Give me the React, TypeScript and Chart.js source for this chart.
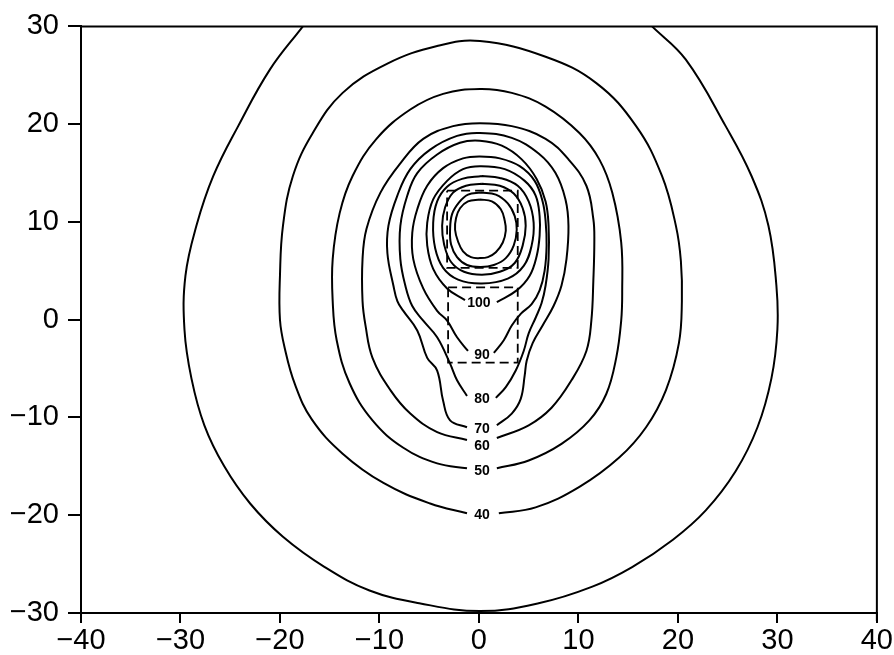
import React, { useEffect, useRef } from "react";
import { Chart, registerables } from "chart.js";

Chart.register(...registerables);

// Axis ticks
const xTicks = [-40, -30, -20, -10, 0, 10, 20, 30, 40];
const yTicks = [-30, -20, -10, 0, 10, 20, 30];

// Contour lines, [x, y] in data units
const c30: [number, number][] = [
  [17.4, 30.0], [20.8, 26.6], [24.8, 19.8], [27.4, 14.7], [29.1, 9.6], [29.9, 3.5], [30.0, -1.0],
  [29.4, -6.0], [28.0, -11.0], [25.8, -15.5], [22.8, -19.5], [19.5, -22.5], [15.4, -25.3],
  [11.4, -27.3], [6.0, -29.0], [0.1, -29.8], [-6.0, -29.0], [-11.0, -27.7], [-15.5, -25.3],
  [-19.7, -22.2], [-23.0, -18.8], [-25.6, -15.0], [-27.6, -10.8], [-28.9, -6.0], [-29.6, -1.0],
  [-29.5, 4.5], [-28.4, 9.6], [-26.7, 14.7], [-24.2, 19.8], [-21.0, 25.6], [-17.7, 30.0],
];
const c40: [number, number][] = [
  [2.0, -19.8], [5.7, -19.2], [10.1, -17.1], [14.1, -14.1], [16.8, -11.0], [18.8, -7.2],
  [20.1, -2.4], [20.4, 1.9], [20.3, 6.0], [19.8, 9.6], [18.4, 14.7], [15.8, 19.8], [11.8, 24.2],
  [6.7, 26.9], [0.1, 28.5], [-4.2, 28.0], [-9.2, 26.2], [-13.7, 23.2], [-16.7, 19.1],
  [-18.7, 14.7], [-19.7, 9.6], [-20.0, 4.5], [-20.0, 0.0], [-19.5, -3.0], [-18.5, -6.6],
  [-16.8, -10.2], [-13.7, -13.7], [-9.6, -16.7], [-4.9, -18.8], [-1.2, -19.8],
];
const c50: [number, number][] = [
  [1.8, -15.2], [5.0, -14.4], [8.3, -12.7], [11.1, -10.3], [12.8, -7.6], [13.8, -3.9],
  [14.3, -0.1], [14.4, 2.8], [14.3, 7.9], [13.4, 13.0], [12.1, 16.4], [10.1, 19.1], [6.7, 21.8],
  [3.3, 23.2], [0.1, 23.6], [-3.6, 23.1], [-6.9, 21.5], [-10.3, 18.5], [-12.7, 14.7],
  [-14.0, 10.9], [-14.7, 6.2], [-14.7, 1.9], [-14.3, -2.1], [-13.0, -6.5], [-10.7, -10.3],
  [-7.6, -13.1], [-4.2, -14.7], [-1.2, -15.2],
];
const c60: [number, number][] = [
  [1.8, -12.1], [5.0, -10.8], [7.3, -9.0], [9.3, -6.2], [10.8, -3.2], [11.3, -0.1], [11.5, 4.0],
  [11.6, 8.1], [11.5, 10.3], [10.8, 13.7], [9.0, 16.4], [6.7, 18.5], [3.3, 19.8], [0.1, 20.1],
  [-2.6, 19.8], [-5.6, 18.5], [-7.9, 16.0], [-9.9, 13.0], [-11.3, 9.3], [-11.7, 6.2],
  [-11.7, 1.9], [-11.4, -0.6], [-10.7, -3.9], [-8.9, -7.2], [-6.9, -9.6], [-4.2, -11.5],
  [-1.2, -12.3],
];
const c70: [number, number][] = [
  [1.8, -10.8], [3.3, -9.6], [4.2, -8.1], [4.6, -5.7], [4.8, -4.2], [5.4, -2.4], [6.4, -0.6],
  [7.5, 1.4], [8.3, 3.5], [8.8, 6.2], [9.0, 9.6], [8.7, 12.3], [7.7, 15.0], [6.0, 17.0],
  [3.3, 18.6], [0.1, 19.1], [-2.2, 18.8], [-4.9, 17.4], [-6.9, 15.4], [-8.2, 12.7], [-9.1, 9.6],
  [-9.2, 6.8], [-8.6, 3.5], [-8.2, 1.9], [-7.6, 0.9], [-6.2, -1.1], [-5.2, -3.9], [-4.2, -5.2],
  [-3.6, -8.3], [-2.9, -10.3], [-1.2, -11.0],
];
const c80: [number, number][] = [
  [1.7, -8.0], [2.7, -6.9], [3.7, -5.2], [4.5, -3.2], [5.0, -1.4], [5.7, 0.2], [6.3, 1.7],
  [6.7, 3.5], [7.0, 6.2], [7.0, 9.6], [6.7, 12.1], [5.8, 14.4], [4.3, 16.4], [2.3, 17.8],
  [0.1, 18.3], [-1.9, 18.1], [-4.2, 16.9], [-6.2, 15.0], [-7.2, 12.7], [-7.9, 9.6], [-7.9, 6.2],
  [-7.4, 3.5], [-6.7, 1.4], [-5.6, -0.1], [-4.2, -1.8], [-2.9, -4.5], [-2.2, -6.2], [-1.2, -7.8],
];
const c90: [number, number][] = [
  [1.5, -3.4], [2.5, -2.1], [3.3, -0.6], [4.2, 0.6], [5.3, 1.6], [6.1, 3.0], [6.6, 5.0],
  [6.8, 7.6], [6.7, 10.1], [6.4, 12.1], [5.6, 14.2], [4.1, 15.7], [2.1, 16.5], [0.1, 16.7],
  [-1.6, 16.5], [-3.6, 15.5], [-5.2, 13.7], [-6.2, 11.3], [-6.7, 8.9], [-6.6, 6.2], [-5.6, 3.2],
  [-4.2, 0.9], [-3.2, -0.1], [-2.2, -1.8], [-1.1, -3.2],
];
const c100: [number, number][] = [
  [1.8, 1.8], [3.8, 3.0], [5.1, 4.5], [5.8, 6.5], [6.1, 8.6], [6.1, 10.6], [5.7, 12.7],
  [4.6, 14.2], [2.6, 15.4], [0.1, 15.7], [-1.6, 15.4], [-3.2, 14.2], [-4.6, 12.3], [-5.2, 9.9],
  [-5.2, 7.6], [-4.6, 5.2], [-3.2, 3.2], [-1.4, 2.0],
];
const c110: [number, number][] = [
  [0.3, 14.7], [2.1, 14.5], [3.9, 13.7], [5.0, 12.1], [5.5, 9.9], [5.3, 7.6], [4.5, 5.5],
  [2.9, 4.2], [0.3, 3.7], [-2.1, 4.1], [-3.6, 5.3], [-4.4, 7.3], [-4.6, 9.9], [-4.2, 12.1],
  [-3.2, 13.6], [-1.7, 14.4], [0.3, 14.7],
];
const c120: [number, number][] = [
  [0.3, 13.9], [2.1, 13.7], [3.5, 12.9], [4.4, 11.4], [4.7, 9.6], [4.4, 7.6], [3.6, 5.8],
  [2.1, 4.9], [0.3, 4.6], [-1.5, 4.9], [-2.8, 5.9], [-3.5, 7.7], [-3.7, 9.6], [-3.4, 11.5],
  [-2.6, 13.0], [-1.3, 13.7], [0.3, 13.9],
];
const c130: [number, number][] = [
  [0.2, 13.0], [1.7, 12.8], [2.9, 11.9], [3.6, 10.6], [3.8, 9.2], [3.5, 7.6], [2.7, 6.3],
  [1.5, 5.6], [0.2, 5.4], [-1.2, 5.6], [-2.2, 6.4], [-2.8, 7.7], [-2.9, 9.2], [-2.7, 10.8],
  [-2.0, 12.0], [-1.1, 12.8], [0.2, 13.0],
];
const c140: [number, number][] = [
  [0.1, 12.3], [1.3, 12.1], [2.2, 11.3], [2.6, 10.1], [2.7, 9.1], [2.4, 7.9], [1.7, 6.9],
  [0.9, 6.4], [0.1, 6.3], [-0.8, 6.4], [-1.6, 7.0], [-2.1, 8.0], [-2.4, 9.2], [-2.3, 10.4],
  [-1.9, 11.4], [-1.1, 12.1], [0.1, 12.3],
];

// Dashed boxes
const upperBox: [number, number][] = [[-3.2, 13.2], [3.9, 13.2], [3.9, 5.3], [-3.2, 5.3], [-3.2, 13.2]];
const lowerBox: [number, number][] = [[-3.1, 3.3], [3.9, 3.3], [3.9, -4.4], [-3.1, -4.4], [-3.1, 3.3]];

// Contour labels
const labelTexts = ["100", "90", "80", "70", "60", "50", "40"];
const labelX = [0.0, 0.3, 0.3, 0.3, 0.3, 0.3, 0.3];
const labelY = [1.7, -3.6, -8.1, -11.2, -12.9, -15.5, -20.0];

const contours = [c30, c40, c50, c60, c70, c80, c90, c100, c110, c120, c130, c140];

const toXY = (pts: [number, number][]) => pts.map(([x, y]) => ({ x, y }));
const minus = (v: number) => (v < 0 ? "\u2212" + Math.abs(v) : String(v));

export default function App() {
  const ref = useRef<HTMLCanvasElement | null>(null);

  useEffect(() => {
    if (!ref.current) return;

    const framePlugin = {
      id: "frame",
      afterDraw(chart: any) {
        const { ctx, chartArea } = chart;
        ctx.save();
        ctx.strokeStyle = "#000";
        ctx.lineWidth = 2;
        ctx.beginPath();
        ctx.moveTo(chartArea.left, chartArea.top);
        ctx.lineTo(chartArea.right, chartArea.top);
        ctx.lineTo(chartArea.right, chartArea.bottom + 8);
        ctx.stroke();
        ctx.restore();
      },
    };

    const labelPlugin = {
      id: "contourLabels",
      afterDatasetsDraw(chart: any) {
        const { ctx } = chart;
        const xs = chart.scales.x;
        const ys = chart.scales.y;
        ctx.save();
        ctx.fillStyle = "#000";
        ctx.font = "bold 14px 'Liberation Sans', Arial, sans-serif";
        ctx.textAlign = "center";
        ctx.textBaseline = "middle";
        labelTexts.forEach((t, i) => {
          ctx.fillText(t, xs.getPixelForValue(labelX[i]), ys.getPixelForValue(labelY[i]));
        });
        ctx.restore();
      },
    };

    const datasets: any[] = contours.map((c) => ({
      data: toXY(c),
      showLine: true,
      borderColor: "#000",
      borderWidth: 2,
      pointRadius: 0,
      tension: 0.4,
      fill: false,
    }));
    [upperBox, lowerBox].forEach((b) =>
      datasets.push({
        data: toXY(b),
        showLine: true,
        borderColor: "#000",
        borderWidth: 1.8,
        borderDash: [9, 5],
        pointRadius: 0,
        tension: 0,
        fill: false,
      })
    );

    const tickFont = { family: "'Liberation Sans', Arial, sans-serif", size: 29, weight: "normal" as any };

    const chart = new Chart(ref.current, {
      type: "scatter",
      data: { datasets },
      plugins: [framePlugin, labelPlugin],
      options: {
        animation: false,
        responsive: false,
        layout: { padding: { top: 25, right: 17, left: 0, bottom: 0 } },
        plugins: { legend: { display: false }, tooltip: { enabled: false } },
        scales: {
          x: {
            type: "linear",
            min: -40,
            max: 40,
            afterFit: (s: any) => {
              s.height = 42;
            },
            afterBuildTicks: (s: any) => {
              s.ticks = xTicks.map((v) => ({ value: v }));
            },
            ticks: {
              color: "#000",
              font: tickFont,
              padding: 1,
              maxRotation: 0,
              autoSkip: false,
              callback: (v: any) => minus(Number(v)),
            },
            grid: { display: true, drawOnChartArea: false, drawTicks: true, tickLength: 10, color: "#000", lineWidth: 2 },
            border: { display: true, color: "#000", width: 2 },
          },
          y: {
            type: "linear",
            min: -30,
            max: 30,
            afterFit: (s: any) => {
              s.width = 81;
            },
            afterBuildTicks: (s: any) => {
              s.ticks = yTicks.map((v) => ({ value: v }));
            },
            ticks: {
              color: "#000",
              font: tickFont,
              padding: 9,
              autoSkip: false,
              callback: (v: any) => minus(Number(v)),
            },
            grid: { display: true, drawOnChartArea: false, drawTicks: true, tickLength: 13, color: "#000", lineWidth: 2 },
            border: { display: true, color: "#000", width: 2 },
          },
        },
      },
    });
    return () => chart.destroy();
  }, []);

  return (
    <div style={{ position: "fixed", left: 0, top: 0, width: 894, height: 655, background: "#fff" }}>
      <canvas ref={ref} width={894} height={655} style={{ display: "block" }} />
    </div>
  );
}
